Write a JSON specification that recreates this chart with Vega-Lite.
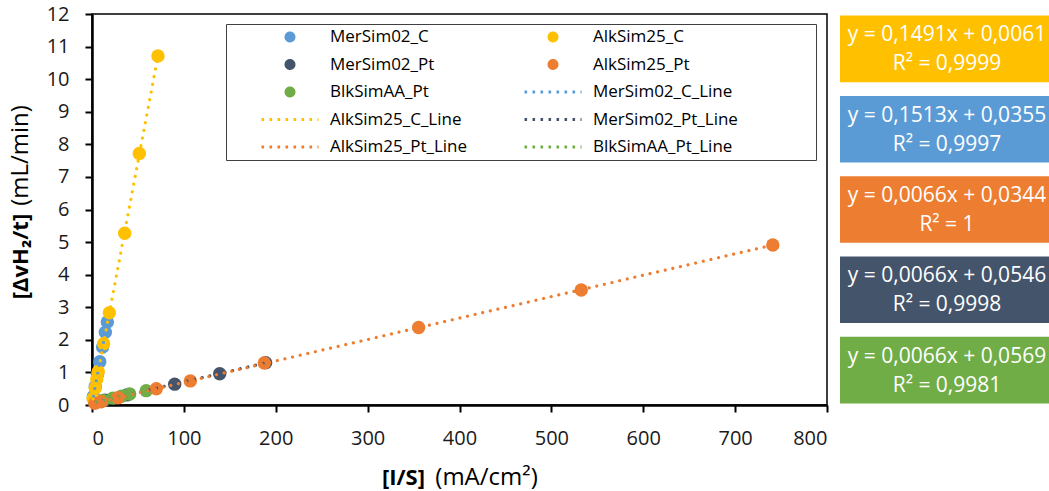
{
  "$schema": "https://vega.github.io/schema/vega-lite/v6.json",
  "background": "white",
  "padding": {"left": 7, "top": 3, "right": 0, "bottom": 0},
  "config": {
    "font": "Open Sans",
    "view": {"stroke": null},
    "axis": {"grid": false, "labelFont": "Open Sans", "titleFont": "Open Sans", "labelColor": "#1a1a1a", "titleColor": "#000000", "domainColor": "#000000", "tickColor": "#000000"}
  },
  "datasets": {
    "pts": [
      {"series": "MerSim02_C", "line": "MerSim02_C_Line", "x": 1.5, "y": 0.26},
      {"series": "MerSim02_C", "line": "MerSim02_C_Line", "x": 3.5, "y": 0.57},
      {"series": "MerSim02_C", "line": "MerSim02_C_Line", "x": 6.0, "y": 0.94},
      {"series": "MerSim02_C", "line": "MerSim02_C_Line", "x": 8.5, "y": 1.33},
      {"series": "MerSim02_C", "line": "MerSim02_C_Line", "x": 11.5, "y": 1.78},
      {"series": "MerSim02_C", "line": "MerSim02_C_Line", "x": 14.5, "y": 2.23},
      {"series": "MerSim02_C", "line": "MerSim02_C_Line", "x": 16.7, "y": 2.55},
      {"series": "MerSim02_Pt", "line": "MerSim02_Pt_Line", "x": 4, "y": 0.08},
      {"series": "MerSim02_Pt", "line": "MerSim02_Pt_Line", "x": 14, "y": 0.15},
      {"series": "MerSim02_Pt", "line": "MerSim02_Pt_Line", "x": 38, "y": 0.31},
      {"series": "MerSim02_Pt", "line": "MerSim02_Pt_Line", "x": 90, "y": 0.64},
      {"series": "MerSim02_Pt", "line": "MerSim02_Pt_Line", "x": 139, "y": 0.96},
      {"series": "MerSim02_Pt", "line": "MerSim02_Pt_Line", "x": 189, "y": 1.3},
      {"series": "BlkSimAA_Pt", "line": "BlkSimAA_Pt_Line", "x": 4.7, "y": 0.09},
      {"series": "BlkSimAA_Pt", "line": "BlkSimAA_Pt_Line", "x": 12, "y": 0.14},
      {"series": "BlkSimAA_Pt", "line": "BlkSimAA_Pt_Line", "x": 22.8, "y": 0.21},
      {"series": "BlkSimAA_Pt", "line": "BlkSimAA_Pt_Line", "x": 32, "y": 0.27},
      {"series": "BlkSimAA_Pt", "line": "BlkSimAA_Pt_Line", "x": 41, "y": 0.34},
      {"series": "BlkSimAA_Pt", "line": "BlkSimAA_Pt_Line", "x": 59, "y": 0.44},
      {"series": "AlkSim25_C", "line": "AlkSim25_C_Line", "x": 1.2, "y": 0.2},
      {"series": "AlkSim25_C", "line": "AlkSim25_C_Line", "x": 3.5, "y": 0.52},
      {"series": "AlkSim25_C", "line": "AlkSim25_C_Line", "x": 5.2, "y": 0.8},
      {"series": "AlkSim25_C", "line": "AlkSim25_C_Line", "x": 6.8, "y": 1.02},
      {"series": "AlkSim25_C", "line": "AlkSim25_C_Line", "x": 12.7, "y": 1.88},
      {"series": "AlkSim25_C", "line": "AlkSim25_C_Line", "x": 18.9, "y": 2.83},
      {"series": "AlkSim25_C", "line": "AlkSim25_C_Line", "x": 35.6, "y": 5.27},
      {"series": "AlkSim25_C", "line": "AlkSim25_C_Line", "x": 51.5, "y": 7.72},
      {"series": "AlkSim25_C", "line": "AlkSim25_C_Line", "x": 71.8, "y": 10.71},
      {"series": "AlkSim25_Pt", "line": "AlkSim25_Pt_Line", "x": 3, "y": 0.05},
      {"series": "AlkSim25_Pt", "line": "AlkSim25_Pt_Line", "x": 10, "y": 0.1},
      {"series": "AlkSim25_Pt", "line": "AlkSim25_Pt_Line", "x": 28.3, "y": 0.22},
      {"series": "AlkSim25_Pt", "line": "AlkSim25_Pt_Line", "x": 70, "y": 0.5},
      {"series": "AlkSim25_Pt", "line": "AlkSim25_Pt_Line", "x": 107, "y": 0.74},
      {"series": "AlkSim25_Pt", "line": "AlkSim25_Pt_Line", "x": 187.5, "y": 1.29},
      {"series": "AlkSim25_Pt", "line": "AlkSim25_Pt_Line", "x": 355.5, "y": 2.38},
      {"series": "AlkSim25_Pt", "line": "AlkSim25_Pt_Line", "x": 532.5, "y": 3.53},
      {"series": "AlkSim25_Pt", "line": "AlkSim25_Pt_Line", "x": 741, "y": 4.91}
    ],
    "eqs": [
      {"series": "AlkSim25_C", "eq": "y = 0,1491x + 0,0061\nR² = 0,9999"},
      {"series": "MerSim02_C", "eq": "y = 0,1513x + 0,0355\nR² = 0,9997"},
      {"series": "AlkSim25_Pt", "eq": "y = 0,0066x + 0,0344\nR² = 1"},
      {"series": "MerSim02_Pt", "eq": "y = 0,0066x + 0,0546\nR² = 0,9998"},
      {"series": "BlkSimAA_Pt", "eq": "y = 0,0066x + 0,0569\nR² = 0,9981"}
    ]
  },
  "bounds": "flush",
  "spacing": 13,
  "hconcat": [
    {
      "width": 735,
      "height": 391,
      "view": {"stroke": "#000000", "strokeWidth": 1.5},
      "data": {"name": "pts"},
      "resolve": {"axis": {"x": "independent", "y": "independent"}},
      "layer": [
        {
          "mark": {"type": "circle", "size": 180, "opacity": 1},
          "encoding": {
            "x": {"field": "x", "type": "quantitative", "scale": {"domain": [0, 800], "nice": false},
              "axis": {"orient": "bottom", "values": [0, 100, 200, 300, 400, 500, 600, 700, 800], "title": "[I/S]", "titleFontWeight": "bold", "titleFontSize": 22, "titleX": 311, "titleY": 72, "titleAlign": "center", "titleBaseline": "middle", "labelFontSize": 20, "tickSize": 7, "tickWidth": 2, "domainWidth": 2.5, "labelPadding": 16}},
            "y": {"field": "y", "type": "quantitative", "scale": {"domain": [0, 12], "nice": false},
              "axis": {"orient": "left", "values": [0, 1, 2, 3, 4, 5, 6, 7, 8, 9, 10, 11, 12], "title": "[ΔvH₂/t]", "titleFontWeight": "bold", "titleFontSize": 22, "titleX": -72, "titleY": 242, "titleAngle": -90, "titleAlign": "center", "titleBaseline": "middle", "labelFontSize": 20, "tickSize": 7, "tickWidth": 2, "domainWidth": 2.5, "labelPadding": 16}},
            "color": {"field": "series", "type": "nominal",
              "scale": {
                "domain": ["MerSim02_C", "AlkSim25_C", "MerSim02_Pt", "AlkSim25_Pt", "BlkSimAA_Pt", "MerSim02_C_Line", "AlkSim25_C_Line", "MerSim02_Pt_Line", "AlkSim25_Pt_Line", "BlkSimAA_Pt_Line"],
                "range": ["#5B9BD5", "#FFC000", "#44546A", "#ED7D31", "#70AD47", "#5B9BD5", "#FFC000", "#44546A", "#ED7D31", "#70AD47"]
              },
              "legend": {
                "title": " ", "titleOrient": "left", "titlePadding": 31, "titleFontSize": 17,
                "orient": "none", "legendX": 134, "legendY": 10, "columns": 2, "direction": "horizontal",
                "symbolSize": 3249, "symbolStrokeWidth": 3, "clipHeight": 20, "rowPadding": 7.5, "columnPadding": 55,
                "symbolType": {"expr": "indexof(datum.value, '_Line') >= 0 ? 'stroke' : 'M -0.14 0 A 0.14 0.14 0 1 0 0.14 0 A 0.14 0.14 0 1 0 -0.14 0 Z'"},
                "symbolDash": {"expr": "indexof(datum.value, '_Line') >= 0 ? [2.6, 5.4] : [1, 0]"},
                "labelFont": "Open Sans", "labelFontSize": 17, "labelColor": "#000000", "labelOffset": 10, "labelLimit": 400,
                "labelExpr": "indexof(['AlkSim25_C','AlkSim25_Pt','MerSim02_C_Line','MerSim02_Pt_Line','BlkSimAA_Pt_Line'], datum.label) >= 0 ? datum.label + '\u00a0\u00a0\u00a0\u00a0\u00a0\u00a0\u00a0\u00a0\u00a0\u00a0\u00a0\u00a0\u00a0\u00a0\u00a0\u00a0\u00a0\u200c' : datum.label",
                "padding": 3, "strokeColor": "#404040", "fillColor": "white"
              }}
          }
        },
        {
          "transform": [{"regression": "y", "on": "x", "groupby": ["line"]}],
          "mark": {"type": "line", "strokeDash": [0.01, 7.8], "strokeCap": "round", "strokeWidth": 3.2},
          "encoding": {
            "x": {"field": "x", "type": "quantitative",
              "axis": {"orient": "bottom", "title": "(mA/cm²)", "titleFontWeight": "normal", "titleFontSize": 24, "titleX": 394, "titleY": 72, "titleAlign": "center", "titleBaseline": "middle", "labels": false, "ticks": false, "domain": false}},
            "y": {"field": "y", "type": "quantitative",
              "axis": {"orient": "left", "title": "(mL/min)", "titleFontWeight": "normal", "titleFontSize": 24, "titleX": -72, "titleY": 141, "titleAngle": -90, "titleAlign": "center", "titleBaseline": "middle", "labels": false, "ticks": false, "domain": false}},
            "color": {"field": "line", "type": "nominal"}
          }
        }
      ]
    },
    {
      "width": 214,
      "height": 391,
      "data": {"name": "eqs"},
      "encoding": {
        "y": {"field": "series", "type": "nominal", "sort": null, "axis": null, "scale": {"paddingInner": 0.17, "paddingOuter": 0.02}}
      },
      "layer": [
        {"mark": {"type": "rect"}, "encoding": {"color": {"field": "series", "type": "nominal", "legend": null}}},
        {"mark": {"type": "text", "lineBreak": "\n", "fontSize": 21, "lineHeight": 29, "color": "white", "font": "Open Sans", "align": "center", "baseline": "middle", "dy": -13.5},
          "encoding": {"text": {"field": "eq", "type": "nominal"}}}
      ]
    }
  ]
}
